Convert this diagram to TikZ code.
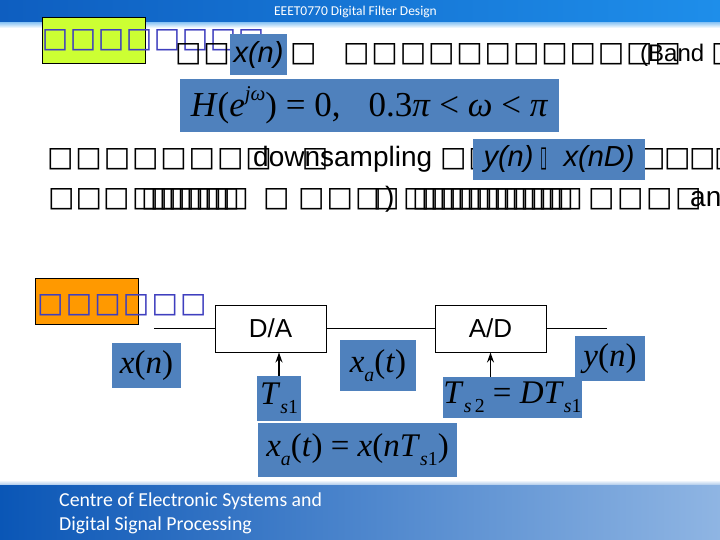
\documentclass[tikz,border=0pt]{standalone}
\usepackage{fontspec,graphicx}
\usetikzlibrary{arrows.meta,positioning}
\setmainfont{Liberation Sans}
\newfontfamily\tms{Liberation Serif}
\newfontfamily\clb{Carlito}
\newfontfamily\tofu{DejaVu Sans}
\definecolor{mblue}{HTML}{4F81BD}
\definecolor{ylw}{HTML}{CCFF33}
\definecolor{org}{HTML}{FF9900}
\definecolor{tblue}{HTML}{3F3FBF}
\definecolor{hdrL}{HTML}{0E5EC0}
\definecolor{hdrR}{HTML}{1E8EEA}
\definecolor{ftL}{HTML}{0A56B6}
\definecolor{ftR}{HTML}{8FB5E3}
\newcommand{\tfg}{{\tofu\bfseries\fontsize{28}{30}\selectfont □}}
\newcommand{\tfs}[2][28.3pt]{\foreach \k in {1,...,#2}{\makebox[#1][l]{\tfg}}}
\newcommand{\up}[1]{\raisebox{.45em}{\scalebox{.6}{#1}}}
\newcommand{\dn}[1]{\raisebox{-.28em}{\scalebox{.6}{#1}}}
\newcommand{\iv}[1]{\textit{#1}}
\tikzset{
  row/.style={anchor=base west,inner sep=0pt,font=\fontsize{28}{30}\selectfont},
  bbox/.style={fill=mblue,inner sep=0pt,font=\tms\fontsize{33}{35}\selectfont},
  blk/.style={draw,line width=1pt,fill=white,minimum width=111pt,minimum height=47pt,inner sep=0pt,font=\fontsize{26}{28}\selectfont},
  hl/.style={draw,line width=.8pt},
  ar/.style={-{Stealth[length=10pt,width=7pt]},line width=1.5pt},
  wire/.style={line width=1pt},
}
\begin{document}
\begin{tikzpicture}[x=1pt,y=-1pt]
\useasboundingbox (0,0) rectangle (720,540);
\fill[white] (0,0) rectangle (720,540);
\shade[left color=hdrL,right color=hdrR] (0,0) rectangle (720,23);
\shade[top color=hdrR!45,bottom color=white] (0,23) rectangle (720,28);
\shade[left color=ftL,right color=ftR] (0,483) rectangle (720,540);
\shade[top color=white,bottom color=ftR!60] (0,480) rectangle (720,484);
\node[text=white,font=\clb\fontsize{13.5}{15}\selectfont] (hdr) at (355.5,12) {EEET0770 Digital Filter Design};
\node[text=white,anchor=west,align=left,inner sep=0pt,font=\clb\fontsize{19.8}{24}\selectfont] (ftr) at (59,513) {Centre of Electronic Systems and\\Digital Signal Processing};

\draw[hl,fill=ylw] (42,17) rectangle (145,63);
\node[row,text=tblue] (t1) at (41.7,48) {\tfs[28pt]{8}};
\node[row] (l1a) at (175,62) {\tfs{2}};
\node[row] (l1b) at (290,62) {\tfg};
\node[row] (l1c) at (343,62) {\tfs{12}};
\node[row,font=\fontsize{24}{26}\selectfont] (l1d) at (640,62) {(Band};
\node[row] (l1e) at (711,62) {\tfg};
\node[bbox,minimum width=57pt,minimum height=41pt,font=\itshape\fontsize{29}{31}\selectfont] (xn1) at (258.5,54.5) {x(n)};
\node[bbox,minimum width=379pt,minimum height=53pt,font=\tms\fontsize{35}{37}\selectfont] (hw) at (369.5,105.5)
  {\iv{H}(\iv{e}\up{\iv{jω}})~=~0,\hspace{28pt}0.3\iv{π}~<~\iv{ω}~<~\iv{π}};

\node[row] (l2a) at (47,166.7) {\tfs{8}\hspace{28.3pt}\tfg};
\node[row] (l2b) at (253,166.7) {downsampling};
\node[row] (l2c) at (440,166.7) {\tfs{2}};
\node[row] (l2d) at (639,166.7) {\tfs[25pt]{4}};
\node[bbox,minimum width=172pt,minimum height=41pt,font=\itshape\fontsize{29}{31}\selectfont] (ynd) at (559,159.5)
  {y(n)\hspace{7pt}{\tofu\upshape\scalebox{.45}[1]{▯}}\hspace{16pt}x(nD)};

\node[row] (l3a) at (48,207) {\tfs[27.5pt]{3}};
\node[row] (l3b) at (132,207) {\tfs[9pt]{11}};
\node[row] (l3c) at (263,207) {\tfg};
\node[row] (l3d) at (298,207) {\tfs[28.5pt]{3}};
\node[row] (l3e) at (373,207) {\tfg};
\node[row] (l3f) at (385,207) {)};
\node[row] (l3g) at (403,207) {\tfs[9pt]{18}};
\node[row] (l3h) at (588,207) {\tfs[29pt]{4}};
\node[row] (l3i) at (690,207) {an};

\draw[hl,fill=org] (35,278) rectangle (138,324);
\node[row,text=tblue] (t2) at (37,312) {\tfs[28.6pt]{6}};

\node[blk] (da) at (270.5,328.5) {D/A};
\node[blk] (ad) at (490.5,328.5) {A/D};
\coordinate (in) at (154,328.5);
\coordinate (out) at (607,328.5);
\draw[wire] (in)--(da); \draw[wire] (da)--(ad); \draw[wire] (ad)--(out);
\node[bbox,minimum width=69pt,minimum height=45pt] (xn) at (146.5,365.5) {\iv{x}(\iv{n})};
\node[bbox,minimum width=76pt,minimum height=51pt] (xa) at (378,365.5) {\iv{x}\dn{\iv{a}}(\iv{t})};
\node[bbox,minimum width=70pt,minimum height=45pt] (yn) at (610,358.5) {\iv{y}(\iv{n})};
\node[bbox,minimum width=44pt,minimum height=45pt] (ts1) at (279,398.5) {\iv{T}\dn{\iv{s}1}};
\node[bbox,minimum width=133pt,minimum height=41pt] (ts2) at (512.5,397.5) {\iv{T}\dn{\iv{s}\,2}~=~\iv{DT}\dn{\iv{s}1}};
\node[bbox,minimum width=199pt,minimum height=54pt] (xeq) at (357.5,450) {\iv{x}\dn{\iv{a}}(\iv{t})~=~\iv{x}(\iv{nT}\dn{\iv{s}1})};
\draw[ar] (ts1.north) -- (ts1.north |- da.south);
\draw[ar] (ts2.north -| ad.south) -- (ad.south);
\end{tikzpicture}
\end{document}
